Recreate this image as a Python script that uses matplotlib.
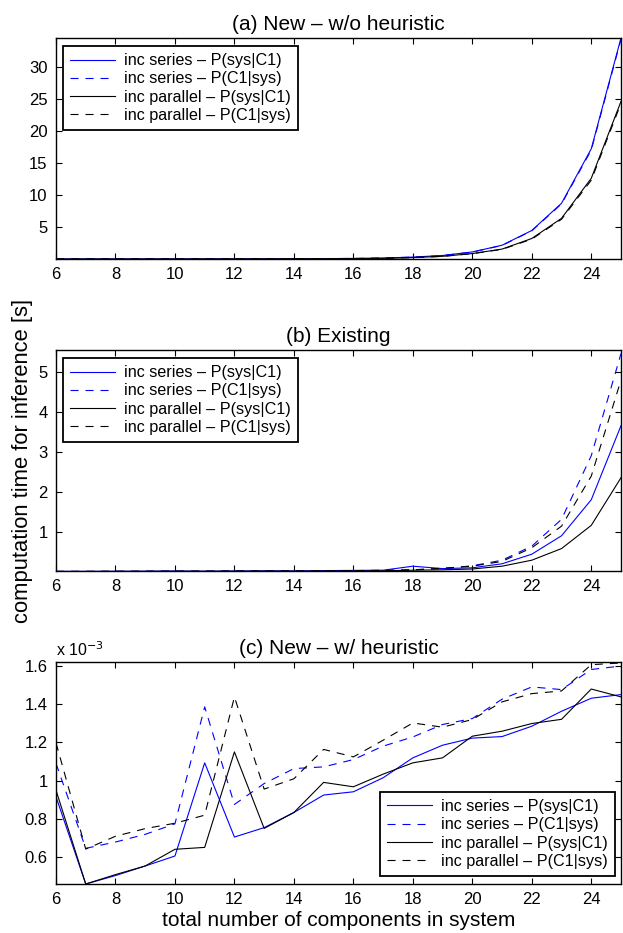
import matplotlib
matplotlib.use("Agg")
import matplotlib.pyplot as plt
from matplotlib.ticker import FuncFormatter
import numpy as np

plt.rcParams['font.family'] = ['Liberation Sans', 'DejaVu Sans']
plt.rcParams['lines.scale_dashes'] = False

n_components = list(range(6, 26))

labels = ["inc series \u2013 P(sys|C1)", "inc series \u2013 P(C1|sys)",
          "inc parallel \u2013 P(sys|C1)", "inc parallel \u2013 P(C1|sys)"]

# (a) New - w/o heuristic
a_series_sysC1 = [0.002, 0.003, 0.005, 0.007, 0.010, 0.015, 0.020, 0.030, 0.045, 0.060,
                  0.090, 0.15, 0.30, 0.55, 1.10, 2.15, 4.45, 8.70, 17.2, 34.5]
a_series_C1sys = [0.002, 0.003, 0.005, 0.007, 0.010, 0.015, 0.020, 0.030, 0.045, 0.060,
                  0.090, 0.15, 0.29, 0.54, 1.08, 2.12, 4.40, 8.60, 17.0, 34.3]
a_parallel_sysC1 = [0.002, 0.003, 0.004, 0.006, 0.008, 0.012, 0.016, 0.024, 0.035, 0.045,
                    0.060, 0.10, 0.22, 0.42, 0.85, 1.55, 3.20, 6.35, 12.6, 24.6]
a_parallel_C1sys = [0.002, 0.003, 0.004, 0.006, 0.008, 0.012, 0.016, 0.024, 0.035, 0.045,
                    0.060, 0.10, 0.21, 0.41, 0.83, 1.50, 3.10, 6.20, 12.3, 24.3]

# (b) Existing
b_series_sysC1 = [0.010, 0.010, 0.012, 0.015, 0.020, 0.015, 0.020, 0.025, 0.022, 0.030,
                  0.035, 0.040, 0.140, 0.080, 0.100, 0.200, 0.440, 0.900, 1.80, 3.65]
b_series_C1sys = [0.010, 0.010, 0.012, 0.013, 0.015, 0.015, 0.018, 0.020, 0.022, 0.025,
                  0.030, 0.035, 0.050, 0.080, 0.150, 0.290, 0.640, 1.310, 2.90, 5.45]
b_parallel_sysC1 = [0.008, 0.008, 0.010, 0.010, 0.012, 0.012, 0.014, 0.015, 0.016, 0.018,
                    0.020, 0.025, 0.040, 0.050, 0.070, 0.140, 0.290, 0.580, 1.16, 2.35]
b_parallel_C1sys = [0.010, 0.010, 0.012, 0.013, 0.015, 0.015, 0.018, 0.020, 0.022, 0.025,
                    0.030, 0.035, 0.050, 0.090, 0.140, 0.260, 0.600, 1.140, 2.39, 4.79]

# (c) New - w/ heuristic
c_series_sysC1 = [0.916e-3, 0.461e-3, 0.505e-3, 0.555e-3, 0.607e-3, 1.093e-3, 0.706e-3, 0.755e-3,
                  0.834e-3, 0.925e-3, 0.942e-3, 1.015e-3, 1.119e-3, 1.185e-3, 1.222e-3, 1.230e-3,
                  1.284e-3, 1.362e-3, 1.430e-3, 1.449e-3]
c_series_C1sys = [1.09e-3, 0.647e-3, 0.680e-3, 0.720e-3, 0.775e-3, 1.385e-3, 0.876e-3, 0.985e-3,
                  1.063e-3, 1.072e-3, 1.110e-3, 1.180e-3, 1.228e-3, 1.293e-3, 1.324e-3, 1.425e-3,
                  1.489e-3, 1.475e-3, 1.580e-3, 1.598e-3]
c_parallel_sysC1 = [0.950e-3, 0.461e-3, 0.510e-3, 0.555e-3, 0.642e-3, 0.652e-3, 1.150e-3, 0.751e-3,
                    0.834e-3, 0.991e-3, 0.968e-3, 1.034e-3, 1.093e-3, 1.119e-3, 1.232e-3, 1.258e-3,
                    1.298e-3, 1.320e-3, 1.478e-3, 1.437e-3]
c_parallel_C1sys = [1.197e-3, 0.643e-3, 0.710e-3, 0.750e-3, 0.778e-3, 0.820e-3, 1.437e-3, 0.956e-3,
                    1.010e-3, 1.163e-3, 1.124e-3, 1.211e-3, 1.301e-3, 1.279e-3, 1.319e-3, 1.411e-3,
                    1.454e-3, 1.468e-3, 1.605e-3, 1.614e-3]

panels = [
    ("(a) New \u2013 w/o heuristic", [a_series_sysC1, a_series_C1sys, a_parallel_sysC1, a_parallel_C1sys],
     (0.0, 34.5), [5, 10, 15, 20, 25, 30]),
    ("(b) Existing", [b_series_sysC1, b_series_C1sys, b_parallel_sysC1, b_parallel_C1sys],
     (0.02, 5.54), [1, 2, 3, 4, 5]),
    ("(c) New \u2013 w/ heuristic", [c_series_sysC1, c_series_C1sys, c_parallel_sysC1, c_parallel_C1sys],
     (0.461e-3, 1.619e-3), [0.6e-3, 0.8e-3, 1.0e-3, 1.2e-3, 1.4e-3, 1.6e-3]),
]

dash = (0, (5.8, 5.0))
styles = [dict(color=(0, 0, 1), ls='-'),
          dict(color=(0, 0, 1), ls=dash),
          dict(color='black', ls='-'),
          dict(color='black', ls=dash)]

W, H = 623, 933
fig = plt.figure(figsize=(W / 100, H / 100), dpi=100)
left = 56 / W
width = (621 - 56) / W
boxes = [(38, 259), (350, 571), (662, 884)]

for i, ((title, series, ylim, yticks), (top, bot)) in enumerate(zip(panels, boxes)):
    ax = fig.add_axes([left, 1 - bot / H, width, (bot - top) / H])
    for s, st, lab in zip(series, styles, labels):
        ax.plot(n_components, s, lw=0.8, label=lab, **st)
    ax.set_xlim(6, 25)
    ax.set_ylim(*ylim)
    ax.set_xticks(range(6, 25, 2))
    ax.set_yticks(yticks)
    if i == 2:
        ax.yaxis.set_major_formatter(FuncFormatter(lambda v, p: '%g' % round(v * 1e3, 3)))
        ax.text(0.0, 1.012, r'x 10$^{-3}$', transform=ax.transAxes, fontsize=11.5,
                ha='left', va='bottom')
    ax.tick_params(direction='in', top=True, right=True, length=4, width=0.8,
                   labelsize=12, pad=6)
    for sp in ax.spines.values():
        sp.set_linewidth(1.0)
    ax.set_title(title, fontsize=15, pad=6)
    kw = dict(borderaxespad=0, fontsize=11.6, handlelength=2.8, handletextpad=0.55,
              labelspacing=0.2, borderpad=0.45, fancybox=False, framealpha=1)
    if i < 2:
        leg = ax.legend(loc='upper left', bbox_to_anchor=(0.0124, 0.964), **kw)
    else:
        leg = ax.legend(loc='lower right', bbox_to_anchor=(0.989, 0.036), **kw)
    leg.get_frame().set_edgecolor('black')
    leg.get_frame().set_linewidth(1.3)
    if i == 1:
        ax.set_ylabel("computation time for inference [s]", fontsize=15.8)
        ax.yaxis.set_label_coords(-0.041, 0.5)
    if i == 2:
        ax.set_xlabel("total number of components in system", fontsize=15, labelpad=3)

fig.savefig("out.png", dpi=100)
